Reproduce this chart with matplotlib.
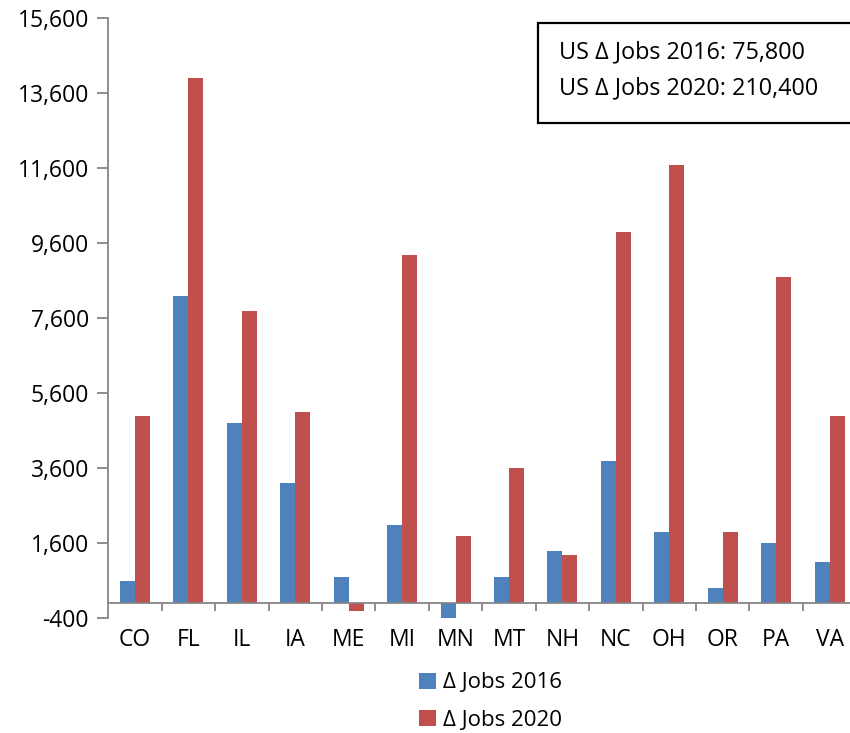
import matplotlib.pyplot as plt
import matplotlib.patches as mpatches
import numpy as np

plt.rcParams['font.family'] = ['Open Sans', 'DejaVu Sans']

states = ['CO', 'FL', 'IL', 'IA', 'ME', 'MI', 'MN', 'MT', 'NH', 'NC', 'OH', 'OR', 'PA', 'VA']
jobs_2016 = [600, 8200, 4800, 3200, 700, 2100, -400, 700, 1400, 3800, 1900, 400, 1600, 1100]
jobs_2020 = [5000, 14000, 7800, 5100, -200, 9300, 1800, 3600, 1300, 9900, 11700, 1900, 8700, 5000]
yticks = list(range(-400, 15601, 2000))

blue = '#4F81BD'
red = '#C0504D'
grey = '#868686'

fig = plt.figure(figsize=(8.5, 7.33), dpi=100)
# axes runs a bit past the right edge of the figure, like the original
ax = fig.add_axes([108.3 / 850, 1 - 618.3 / 733, 748 / 850, 600 / 733])

x = np.arange(len(states))
w = 0.28
ax.bar(x - w / 2, jobs_2016, w, color=blue, label='Δ Jobs 2016')
ax.bar(x + w / 2, jobs_2020, w, color=red, label='Δ Jobs 2020')

ax.set_xlim(-0.5, len(states) - 0.5)
ax.set_ylim(-400, 15600)
ax.set_yticks(yticks)
ax.set_yticklabels([f'{v:,}' for v in yticks], fontsize=16.5)

ax.spines['top'].set_visible(False)
ax.spines['right'].set_visible(False)
ax.spines['left'].set_color(grey)
ax.spines['left'].set_linewidth(1.3)
ax.spines['bottom'].set_position(('data', 0))
ax.spines['bottom'].set_color(grey)
ax.spines['bottom'].set_linewidth(1.3)
ax.tick_params(axis='y', direction='out', length=8, width=1.3, color=grey, pad=6)

ax.set_xticks(x)
ax.set_xticklabels(states, fontsize=16.5)
ax.tick_params(axis='x', which='major', length=0, pad=18)
ax.set_xticks(np.arange(0.5, len(states)), minor=True)
ax.tick_params(axis='x', which='minor', direction='out', length=6, width=1.3, color=grey)

box = mpatches.Rectangle((537.7 / 850, 1 - 123.3 / 733), 330 / 850, 100 / 733,
                         transform=fig.transFigure, facecolor='white',
                         edgecolor='black', linewidth=1.6, zorder=5)
fig.patches.append(box)
fig.text(559 / 850, 1 - 52 / 733, 'US Δ Jobs 2016: 75,800', fontsize=16.8,
         va='center', ha='left', zorder=6)
fig.text(559 / 850, 1 - 88 / 733, 'US Δ Jobs 2020: 210,400', fontsize=16.8,
         va='center', ha='left', zorder=6)

fig.legend(loc='center left', bbox_to_anchor=(410 / 850, 1 - 701.5 / 733),
           frameon=False, fontsize=16, handlelength=0.75, handleheight=0.75,
           handletextpad=0.35, labelspacing=0.72, borderaxespad=0)

fig.savefig('out.png', dpi=100)
